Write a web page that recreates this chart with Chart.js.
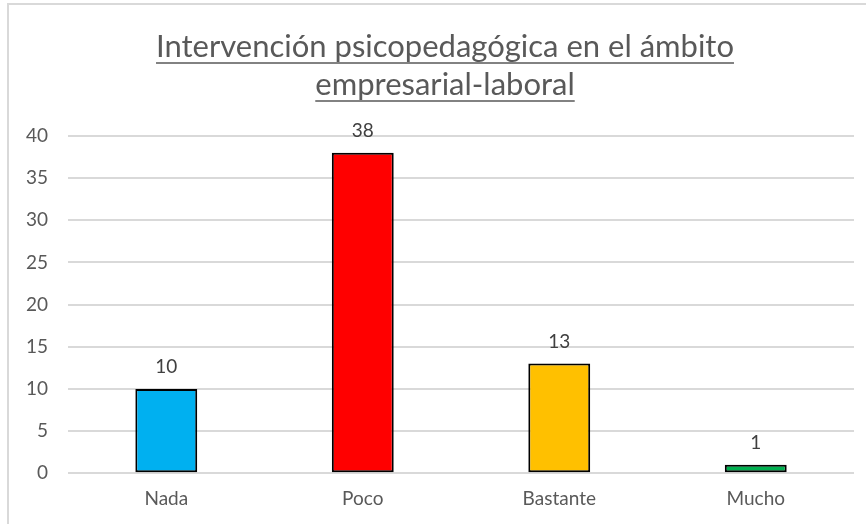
<!DOCTYPE html>
<html><head><meta charset="utf-8">
<script src="https://cdn.jsdelivr.net/npm/chart.js@4/dist/chart.umd.min.js"></script>
<style>
html,body{margin:0;padding:0;background:#fff;}
#wrap{position:relative;width:866px;height:524px;overflow:hidden;}
#frame{position:absolute;left:7px;top:3px;width:900px;height:600px;border:2px solid #d9d9d9;box-sizing:border-box;}
canvas{position:absolute;left:0;top:0;}
</style></head>
<body><div id="wrap"><div id="frame"></div><canvas id="c" width="866" height="524"></canvas></div>
<script>
const titleLines = ["Intervención psicopedagógica en el ámbito", "empresarial-laboral"];
const categories = ["Nada", "Poco", "Bastante", "Mucho"];
const values = [10, 38, 13, 1];
const barColors = ["#00B0F0", "#FF0000", "#FFC000", "#00B050"];
const yTicks = [0, 5, 10, 15, 20, 25, 30, 35, 40];

const FONT = "Lato, 'Liberation Sans', sans-serif";

const titlePlugin = {
  id: 'titleU',
  afterDraw(chart) {
    const ctx = chart.ctx;
    ctx.save();
    ctx.font = "31px " + FONT;
    ctx.fillStyle = "#595959";
    ctx.strokeStyle = "#595959";
    ctx.lineWidth = 1.5;
    ctx.textAlign = "center";
    ctx.textBaseline = "alphabetic";
    const cx = 445;
    const bases = [57, 95];
    titleLines.forEach((t, i) => {
      ctx.fillText(t, cx, bases[i]);
      const w = ctx.measureText(t).width;
      ctx.beginPath();
      ctx.moveTo(cx - w / 2, bases[i] + 6);
      ctx.lineTo(cx + w / 2, bases[i] + 6);
      ctx.stroke();
    });
    ctx.restore();
  }
};

const labelPlugin = {
  id: 'vals',
  afterDatasetsDraw(chart) {
    const ctx = chart.ctx;
    const meta = chart.getDatasetMeta(0);
    ctx.save();
    ctx.font = "19px " + FONT;
    ctx.fillStyle = "#404040";
    ctx.textAlign = "center";
    ctx.textBaseline = "middle";
    meta.data.forEach((bar, i) => {
      ctx.fillText(String(values[i]), bar.x, bar.y - 22);
    });
    ctx.restore();
  }
};

new Chart(document.getElementById('c'), {
  type: 'bar',
  data: {
    labels: categories,
    datasets: [{
      data: values,
      backgroundColor: barColors,
      borderColor: "#000000",
      borderWidth: 2,
      borderSkipped: false,
      barPercentage: 0.315,
      categoryPercentage: 1
    }]
  },
  options: {
    responsive: false,
    animation: false,
    devicePixelRatio: 1,
    layout: { padding: { left: 6, right: 12, top: 136, bottom: 0 } },
    plugins: { legend: { display: false }, title: { display: false }, tooltip: { enabled: false } },
    scales: {
      x: {
        grid: { display: false, drawTicks: false },
        border: { display: false },
        ticks: { color: "#595959", font: { family: FONT, size: 19 }, padding: 14 }
      },
      y: {
        min: 0, max: 40,
        afterBuildTicks(axis) { axis.ticks = yTicks.map(v => ({ value: v })); },
        grid: { color: "#d9d9d9", lineWidth: 2, drawTicks: false },
        border: { display: false },
        ticks: { color: "#595959", font: { family: FONT, size: 19 }, padding: 20 }
      }
    }
  },
  plugins: [titlePlugin, labelPlugin]
});
</script></body></html>
